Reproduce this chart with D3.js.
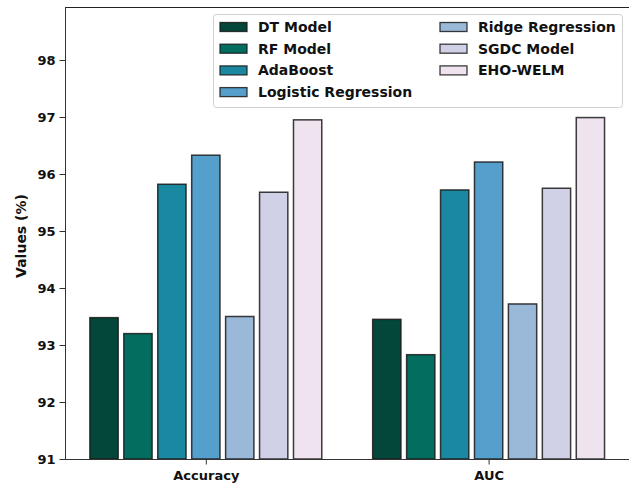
<!DOCTYPE html>
<html lang="en">
<head>
    <meta charset="UTF-8">
    <title>Model comparison - Accuracy and AUC</title>
    <style>
        body { margin: 0; background: #fff; }
        svg text { font-family: "DejaVu Sans", sans-serif; font-weight: bold; fill: #111; }
        .axis path, .axis line { stroke: #333; }
    </style>
</head>
<body>
    <svg id="chart" width="629" height="485"></svg>

    <script src="https://d3js.org/d3.v7.min.js"></script>
    <script>
        // --- Data ---
        const metrics = ["Accuracy", "AUC"];
        const models = ["DT Model", "RF Model", "AdaBoost", "Logistic Regression",
                        "Ridge Regression", "SGDC Model", "EHO-WELM"];
        const accuracyValues = [93.48, 93.20, 95.82, 96.33, 93.50, 95.68, 96.95];
        const aucValues = [93.45, 92.83, 95.72, 96.21, 93.72, 95.75, 96.99];
        const yTicks = [91, 92, 93, 94, 95, 96, 97, 98];
        const colors = ["#03473a", "#036d5f", "#1a88a0", "#559fcc", "#9ab9d9", "#d0d1e6", "#efe3f0"];

        const seriesByMetric = [accuracyValues, aucValues];

        // --- Setup ---
        const svg = d3.select("#chart");

        // matplotlib-style units: groups at 0 and 1, bar width 0.1, step 0.12
        const xScale = d3.scaleLinear().domain([-0.498, 1.5]).range([65, 630]);
        const yScale = d3.scaleLinear().domain([91, 98.93]).range([459, 7]);
        const barW = 0.1, step = 0.12;

        const g = svg.append("g");

        // Bars
        seriesByMetric.forEach((vals, mi) => {
            g.selectAll(".bar-" + mi)
                .data(vals)
                .enter()
                .append("rect")
                .attr("class", "bar-" + mi)
                .attr("x", (d, i) => xScale(mi + (i - 3) * step - barW / 2))
                .attr("width", xScale(barW) - xScale(0))
                .attr("y", d => yScale(d))
                .attr("height", d => yScale(91) - yScale(d))
                .attr("fill", (d, i) => colors[i])
                .attr("stroke", "#1a1a1a")
                .attr("stroke-opacity", 0.85)
                .attr("stroke-width", 1.5);
        });

        // Top spine
        g.append("line").attr("x1", 65).attr("x2", 629).attr("y1", 7.5).attr("y2", 7.5)
            .attr("stroke", "#222").attr("stroke-width", 1);

        // Y axis
        const yAxis = d3.axisLeft(yScale).tickValues(yTicks).tickSize(6).tickPadding(4).tickFormat(d3.format("d"));
        g.append("g")
            .attr("class", "axis")
            .attr("transform", "translate(65.5,0)")
            .call(yAxis)
            .call(a => a.select(".domain").attr("d", "M0,7V459.5"))
            .selectAll("text").style("font-size", "13px").style("font-family", "DejaVu Sans").style("font-weight", "bold");

        // X axis
        const xAxis = d3.axisBottom(xScale).tickValues([0, 1]).tickSize(5).tickPadding(6)
            .tickFormat((d, i) => metrics[i]);
        g.append("g")
            .attr("class", "axis")
            .attr("transform", "translate(0,459.5)")
            .call(xAxis)
            .call(a => a.select(".domain").attr("d", "M65,0H629"))
            .selectAll("text").style("font-size", "13px").style("font-family", "DejaVu Sans").style("font-weight", "bold");

        // Y label
        svg.append("text")
            .attr("transform", "translate(26,236) rotate(-90)")
            .attr("text-anchor", "middle")
            .style("font-size", "14px")
            .text("Values (%)");

        // Legend
        const legend = svg.append("g");
        legend.append("rect")
            .attr("x", 213.5).attr("y", 14.5).attr("width", 409).attr("height", 93)
            .attr("rx", 3).attr("fill", "#fff").attr("fill-opacity", 0.85)
            .attr("stroke", "#d0d0d0");

        const legendPos = models.map((m, i) => {
            const col = i < 4 ? 0 : 1;
            const row = i < 4 ? i : i - 4;
            return { name: m, color: colors[i], x: col === 0 ? 220 : 440, y: 27 + row * 21.7 };
        });
        const items = legend.selectAll(".item").data(legendPos).enter().append("g")
            .attr("transform", d => `translate(${d.x},${d.y})`);
        items.append("rect")
            .attr("x", 0).attr("y", -4.5).attr("width", 27).attr("height", 9)
            .attr("fill", d => d.color)
            .attr("stroke", "#1a1a1a").attr("stroke-opacity", 0.85).attr("stroke-width", 1.3);
        items.append("text")
            .attr("x", 38).attr("dy", "0.35em")
            .style("font-size", "14px")
            .text(d => d.name);
    </script>
</body>
</html>
